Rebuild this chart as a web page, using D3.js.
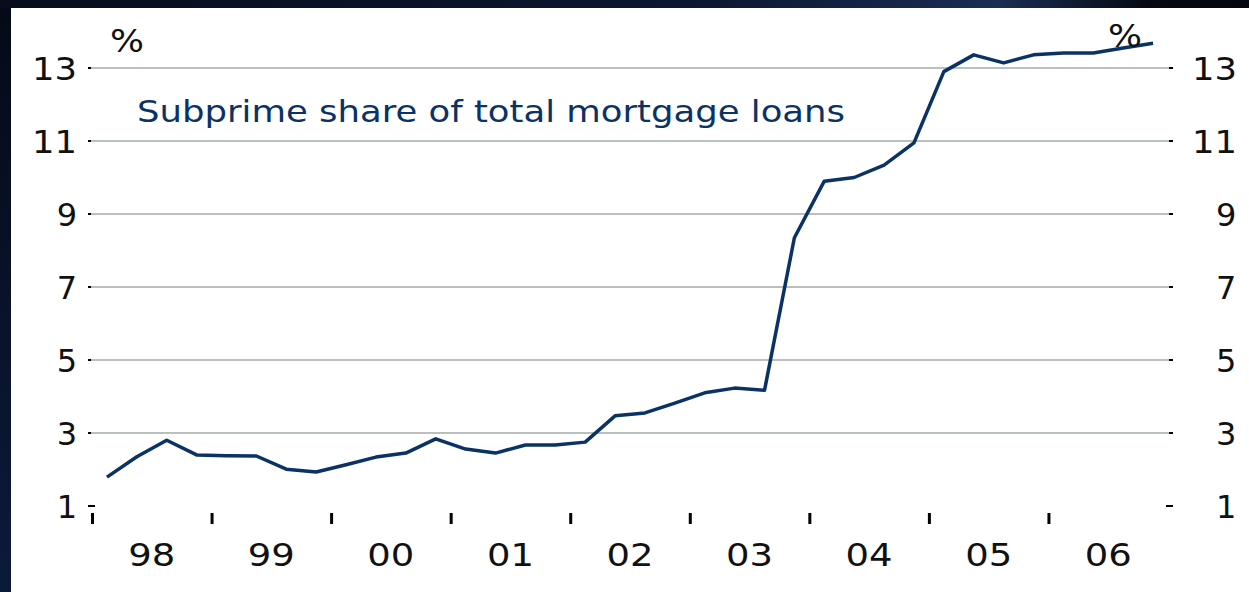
<!DOCTYPE html>
<html>
<head>
<meta charset="utf-8">
<script src="https://cdn.jsdelivr.net/npm/d3@7"></script>
<style>
  html, body { margin: 0; padding: 0; background: #0a1226; }
  svg { display: block; }
</style>
</head>
<body>
<div id="chart"></div>
<script>
// quarterly values, 1998 Q1 .. 2006 Q4
var years = [1998, 1999, 2000, 2001, 2002, 2003, 2004, 2005, 2006];
var yearLabels = ['98', '99', '00', '01', '02', '03', '04', '05', '06'];
var subprimeShare = [
	1.79, 2.35, 2.80, 2.40,
	2.38, 2.37, 2.01, 1.93,
	2.13, 2.34, 2.45, 2.84,
	2.56, 2.45, 2.67, 2.67,
	2.75, 3.47, 3.55, 3.82,
	4.10, 4.23, 4.17, 8.35,
	9.90, 10.00, 10.34, 10.95,
	12.90, 13.36, 13.14, 13.36,
	13.41, 13.41, 13.55, 13.68
];
var yTicks = [1, 3, 5, 7, 9, 11, 13];
var title = 'Subprime share of total mortgage loans';

var W = 1249, H = 592;
var chart = {
	padding: {l: 92, r: 81, t: 68, b: 86},
	svg: null
};

function initChart() {
	chart.svg = d3.select('#chart').append('svg')
		.attr('width', W)
		.attr('height', H);

	var defs = chart.svg.append('defs');
	var grad = defs.append('linearGradient').attr('id', 'frame')
		.attr('x1', '0').attr('x2', '1').attr('y1', '0').attr('y2', '0');
	grad.append('stop').attr('offset', '0%').attr('stop-color', '#070d1c');
	grad.append('stop').attr('offset', '55%').attr('stop-color', '#0b1630');
	grad.append('stop').attr('offset', '80%').attr('stop-color', '#1b2d55');
	grad.append('stop').attr('offset', '92%').attr('stop-color', '#050912');
	grad.append('stop').attr('offset', '100%').attr('stop-color', '#03060e');

	var vgrad = defs.append('linearGradient').attr('id', 'side')
		.attr('x1', '0').attr('x2', '0').attr('y1', '0').attr('y2', '1');
	vgrad.append('stop').attr('offset', '0%').attr('stop-color', '#050a18');
	vgrad.append('stop').attr('offset', '100%').attr('stop-color', '#0c1a3a');

	chart.svg.append('rect').attr('width', W).attr('height', H).attr('fill', 'url(#frame)');
	chart.svg.append('rect').attr('y', 8).attr('width', 11).attr('height', H - 8).attr('fill', 'url(#side)');
	chart.svg.append('rect')
		.attr('x', 11).attr('y', 8)
		.attr('width', W - 11).attr('height', H - 8)
		.attr('fill', 'white');
}

function drawChart() {
	var svg = chart.svg;
	var p = chart.padding;

	var xScale = d3.scaleLinear()
		.domain([1998, 2007])
		.range([p.l, W - p.r]);
	var yScale = d3.scaleLinear()
		.domain([1, 13])
		.range([H - p.b, p.t]);

	var digitFont = '"DejaVu Sans", sans-serif';

	// y tick dashes (black), gridlines drawn over them
	var yt = svg.append('g');
	yt.selectAll('line.tl').data(yTicks).enter().append('line')
		.attr('x1', xScale(1998) - 4).attr('x2', xScale(1998) + 3)
		.attr('y1', d => yScale(d)).attr('y2', d => yScale(d))
		.attr('stroke', 'black').attr('stroke-width', 2);
	yt.selectAll('line.tr').data(yTicks).enter().append('line')
		.attr('x1', xScale(2007) - 2).attr('x2', xScale(2007) + 5)
		.attr('y1', d => yScale(d)).attr('y2', d => yScale(d))
		.attr('stroke', 'black').attr('stroke-width', 2);

	svg.append('g').selectAll('line')
		.data(yTicks.filter(d => d > 1)).enter().append('line')
		.attr('x1', xScale(1998) - 1).attr('x2', xScale(2007) + 1)
		.attr('y1', d => yScale(d)).attr('y2', d => yScale(d))
		.attr('stroke', '#b9c0c0').attr('stroke-width', 2.2);

	// y labels, both sides
	svg.append('g').selectAll('text').data(yTicks).enter().append('text')
		.attr('x', d => String(d).length > 1 ? 32 : 77).attr('y', d => yScale(d) + 12)
		.attr('text-anchor', d => String(d).length > 1 ? 'start' : 'end')
		.style('font-family', digitFont).style('font-size', '32px')
		.attr('textLength', d => String(d).length > 1 ? 45 : null)
		.attr('lengthAdjust', 'spacingAndGlyphs')
		.attr('fill', '#111')
		.text(d => d);
	svg.append('g').selectAll('text').data(yTicks).enter().append('text')
		.attr('x', d => String(d).length > 1 ? 1192 : 1216).attr('y', d => yScale(d) + 12)
		.style('font-family', digitFont).style('font-size', '32px')
		.attr('textLength', d => String(d).length > 1 ? 45 : null)
		.attr('lengthAdjust', 'spacingAndGlyphs')
		.attr('fill', '#111')
		.text(d => d);

	// x axis ticks at year boundaries, labels mid-year
	var xAxis = d3.axisBottom(xScale)
		.tickValues(years)
		.tickSize(11)
		.tickFormat('');
	svg.append('g')
		.attr('transform', 'translate(0,' + (yScale(1) + 7) + ')')
		.call(xAxis)
		.call(g => g.select('.domain').remove())
		.call(g => g.selectAll('.tick line').attr('stroke', 'black').attr('stroke-width', 3));

	svg.append('g').selectAll('text').data(years).enter().append('text')
		.attr('x', d => xScale(d + 0.5))
		.attr('y', 566)
		.attr('text-anchor', 'middle')
		.style('font-family', digitFont).style('font-size', '32px')
		.attr('textLength', 47)
		.attr('lengthAdjust', 'spacingAndGlyphs')
		.attr('fill', '#111')
		.text((d, i) => yearLabels[i]);

	// the series
	var line = d3.line()
		.x((d, i) => xScale(1998 + (i + 0.5) / 4))
		.y(d => yScale(d));
	svg.append('path')
		.datum(subprimeShare)
		.attr('d', line)
		.attr('fill', 'none')
		.attr('stroke', '#0a3264')
		.attr('stroke-width', 3.5)
		.attr('stroke-linejoin', 'round');

	// unit labels
	svg.append('text').attr('x', 110).attr('y', 52)
		.style('font-family', digitFont).style('font-size', '32px')
		.attr('textLength', 34).attr('lengthAdjust', 'spacingAndGlyphs')
		.attr('fill', '#111').text('%');
	svg.append('text').attr('x', 1108).attr('y', 47)
		.style('font-family', digitFont).style('font-size', '32px')
		.attr('textLength', 34).attr('lengthAdjust', 'spacingAndGlyphs')
		.attr('fill', '#111').text('%');

	svg.append('text')
		.attr('x', 137).attr('y', 122)
		.style('font-family', digitFont).style('font-size', '31px')
		.attr('textLength', 708).attr('lengthAdjust', 'spacingAndGlyphs')
		.attr('fill', '#0a3264')
		.text(title);
}

initChart();
drawChart();
</script>
</body>
</html>
